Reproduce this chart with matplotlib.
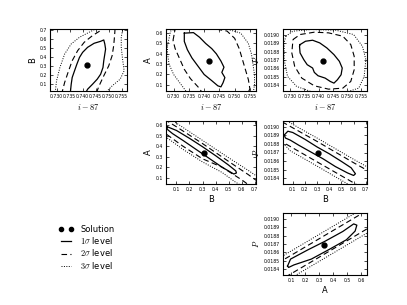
import matplotlib
matplotlib.use("Agg")
from matplotlib import pyplot as plt
from matplotlib.lines import Line2D

plt.rcParams["mathtext.fontset"] = "cm"
plt.rcParams["font.size"] = 6

# best fit solution
sol_i = 0.7415
sol_b = 0.31
sol_a = 0.335
sol_p = 0.01869

# axis ranges
lim_i = (0.7275, 0.757)
lim_b = (0.02, 0.71)
lim_a = (0.04, 0.64)
lim_p = (0.01833, 0.01907)

ticks_i = [0.730, 0.735, 0.740, 0.745, 0.750, 0.755]
ticks_b = [0.1, 0.2, 0.3, 0.4, 0.5, 0.6, 0.7]
ticks_a = [0.1, 0.2, 0.3, 0.4, 0.5, 0.6]
ticks_p = [0.0184, 0.0185, 0.0186, 0.0187, 0.0188, 0.0189, 0.0190]

# contour vertices: (x, y) in data units
# B vs i-87
bi_1s = [(0.73525, -0.01), (0.735625, 0.0956), (0.736, 0.170), (0.7369, 0.245), (0.7378, 0.319),
         (0.7388, 0.394), (0.740, 0.450), (0.7419, 0.506), (0.7444, 0.551), (0.7469, 0.573),
         (0.7481, 0.588), (0.7485, 0.543), (0.7488, 0.487), (0.7485, 0.431), (0.7481, 0.357),
         (0.7478, 0.282), (0.7469, 0.207), (0.7456, 0.152), (0.7438, 0.0956), (0.7419, 0.0396),
         (0.741, -0.01)]
bi_2s = [(0.7319, -0.02), (0.7331, 0.114), (0.7344, 0.226), (0.736, 0.357), (0.7381, 0.469),
         (0.7406, 0.562), (0.7438, 0.637), (0.7469, 0.693), (0.7488, 0.75), (0.7525, 0.75),
         (0.75225, 0.637), (0.7519, 0.525), (0.7513, 0.413), (0.750, 0.30), (0.7481, 0.189),
         (0.7463, 0.077), (0.745, -0.02)]
bi_3s = [(0.7294, -0.02), (0.730, 0.133), (0.7313, 0.282), (0.7331, 0.431), (0.7356, 0.543),
         (0.7388, 0.618), (0.7425, 0.674), (0.745, 0.711), (0.7463, 0.75), (0.7556, 0.75),
         (0.7548, 0.618), (0.7548, 0.506), (0.7553, 0.375), (0.7559, 0.245), (0.7544, 0.152),
         (0.7513, 0.077), (0.7481, -0.02)]

# A vs i-87
ai_1s = [(0.7335, 0.60), (0.7365, 0.605), (0.7385, 0.56), (0.7405, 0.50), (0.7425, 0.45),
         (0.7440, 0.40), (0.7455, 0.33), (0.7465, 0.27), (0.7458, 0.22), (0.7468, 0.17),
         (0.7462, 0.12), (0.7455, 0.08), (0.7445, 0.09), (0.7425, 0.14), (0.7400, 0.20),
         (0.7380, 0.28), (0.7360, 0.36), (0.7345, 0.44), (0.7335, 0.52)]
ai_2s = [(0.7298, 0.53), (0.7305, 0.64), (0.740, 0.66), (0.7475, 0.62), (0.750, 0.55),
         (0.7515, 0.45), (0.7525, 0.35), (0.7535, 0.25), (0.7545, 0.15), (0.7550, 0.06),
         (0.7540, 0.0), (0.7400, 0.0), (0.7380, 0.08), (0.7355, 0.16), (0.7335, 0.25),
         (0.7320, 0.35), (0.7305, 0.45)]
ai_3s = [(0.7280, 0.48), (0.7290, 0.62), (0.7320, 0.66), (0.7450, 0.66), (0.7520, 0.60),
         (0.7545, 0.50), (0.7555, 0.40), (0.7560, 0.30), (0.7565, 0.20), (0.7565, 0.10),
         (0.7560, 0.0), (0.7350, 0.0), (0.7325, 0.10), (0.7300, 0.20), (0.7285, 0.30),
         (0.7280, 0.40)]

# P vs i-87
pi_1s = [(0.7335, 0.018884), (0.7354, 0.018924), (0.7379, 0.018936), (0.7404, 0.018904),
         (0.7429, 0.018844), (0.7454, 0.018764), (0.7473, 0.018684), (0.7483, 0.018604),
         (0.7479, 0.018524), (0.7466, 0.018464), (0.7454, 0.018424), (0.7441, 0.018444),
         (0.7423, 0.018484), (0.7398, 0.018512), (0.7385, 0.018552), (0.7379, 0.018604),
         (0.7360, 0.018644), (0.7348, 0.018704), (0.7335, 0.018784), (0.7333, 0.018864)]
pi_2s = [(0.731, 0.018944), (0.7335, 0.019004), (0.7385, 0.019032), (0.7435, 0.019024),
         (0.7485, 0.018984), (0.7513, 0.018884), (0.7525, 0.018744), (0.7525, 0.018584),
         (0.7513, 0.018444), (0.7485, 0.018364), (0.7435, 0.018352), (0.7385, 0.018392),
         (0.7341, 0.018484), (0.7316, 0.018624), (0.7306, 0.018784)]
pi_3s = [(0.7285, 0.018984), (0.731, 0.019044), (0.7373, 0.019064), (0.746, 0.019056),
         (0.7523, 0.019004), (0.7554, 0.018864), (0.7566, 0.018704), (0.756, 0.018504),
         (0.7541, 0.018364), (0.7485, 0.018304), (0.7373, 0.018324), (0.7323, 0.018384),
         (0.7291, 0.018504), (0.7279, 0.018704), (0.7279, 0.018904)]

# A vs B
ab_1s = [(0.03, 0.585), (0.10, 0.55), (0.20, 0.475), (0.30, 0.395), (0.40, 0.31), (0.50, 0.22),
         (0.555, 0.165), (0.56, 0.145), (0.54, 0.135), (0.45, 0.20), (0.35, 0.285), (0.25, 0.37),
         (0.15, 0.455), (0.07, 0.52), (0.035, 0.555), (0.025, 0.575)]
ab_2s = [(-0.05, 0.70), (0.10, 0.585), (0.30, 0.425), (0.50, 0.255), (0.65, 0.13), (0.75, 0.04),
         (0.78, 0.0), (0.70, -0.01), (0.60, 0.08), (0.45, 0.20), (0.30, 0.28), (0.15, 0.40),
         (0.05, 0.49), (-0.05, 0.58)]
ab_3s = [(-0.05, 0.74), (0.10, 0.62), (0.30, 0.455), (0.50, 0.29), (0.65, 0.17), (0.78, 0.06),
         (0.70, -0.05), (0.55, 0.06), (0.45, 0.15), (0.30, 0.25), (0.15, 0.37), (0.05, 0.46),
         (-0.05, 0.55)]

# P vs B
pb_1s = [(0.03, 0.018905), (0.06, 0.01895), (0.10, 0.018935), (0.20, 0.018855), (0.30, 0.018765),
         (0.40, 0.018685), (0.50, 0.018595), (0.58, 0.01852), (0.615, 0.01845), (0.60, 0.01843),
         (0.55, 0.01846), (0.45, 0.018535), (0.35, 0.018625), (0.25, 0.018705), (0.15, 0.018785),
         (0.08, 0.018845), (0.04, 0.01887)]
pb_2s = [(-0.05, 0.019115), (0.0, 0.01907), (0.15, 0.01895), (0.30, 0.01883), (0.45, 0.018705),
         (0.60, 0.01858), (0.75, 0.01846), (0.80, 0.01842), (0.80, 0.01818), (0.70, 0.01826),
         (0.55, 0.018385), (0.40, 0.018508), (0.30, 0.01859), (0.15, 0.018713), (0.05, 0.018795),
         (-0.05, 0.018877)]
pb_3s = [(-0.05, 0.019155), (0.15, 0.01899), (0.30, 0.01887), (0.45, 0.018745), (0.60, 0.01862),
         (0.80, 0.01846), (0.80, 0.01813), (0.60, 0.01829), (0.45, 0.018415), (0.30, 0.01854),
         (0.15, 0.018663), (0.08, 0.01872), (0.04, 0.01878), (-0.05, 0.01885)]

# P vs A
pa_1s = [(0.0725, 0.018437), (0.094, 0.01852), (0.2175, 0.01863), (0.3425, 0.018735),
         (0.4675, 0.01885), (0.545, 0.01894), (0.5675, 0.018925), (0.555, 0.018854),
         (0.4925, 0.01875), (0.3675, 0.018633), (0.2425, 0.01852), (0.1175, 0.01845),
         (0.08, 0.01842)]
pa_2s = [(0.0, 0.01847), (0.10, 0.018567), (0.25, 0.018715), (0.40, 0.018863), (0.55, 0.019011),
         (0.70, 0.01916), (0.70, 0.01894), (0.55, 0.018791), (0.40, 0.018643), (0.25, 0.018495),
         (0.10, 0.018347), (0.0, 0.01825)]
pa_3s = [(0.0, 0.01852), (0.15, 0.018668), (0.30, 0.018816), (0.45, 0.018964), (0.60, 0.019112),
         (0.70, 0.01921), (0.70, 0.01889), (0.55, 0.018741), (0.40, 0.018593), (0.25, 0.018445),
         (0.10, 0.018297), (0.0, 0.0182)]

styles = [dict(ls="-", lw=0.9), dict(ls=(0, (5, 3)), lw=0.8), dict(ls=(0, (1, 1.5)), lw=0.7)]

W, H = 407, 305


def panel(x0, x1, y0, y1):
    # pixel box -> figure fraction
    return fig.add_axes([x0 / W, 1 - y1 / H, (x1 - x0) / W, (y1 - y0) / H])


def draw(ax, contours, sol, xlim, ylim, xticks, yticks, xfmt, yfmt, xlabel, ylabel):
    for verts, st in zip(contours, styles):
        xs = [v[0] for v in verts] + [verts[0][0]]
        ys = [v[1] for v in verts] + [verts[0][1]]
        ax.plot(xs, ys, color="k", **st)
    ax.plot([sol[0]], [sol[1]], "o", color="k", ms=3.5)
    ax.set_xlim(xlim)
    ax.set_ylim(ylim)
    ax.set_xticks(xticks)
    ax.set_yticks(yticks)
    ax.set_xticklabels([xfmt % t for t in xticks])
    ax.set_yticklabels([yfmt % t for t in yticks])
    ax.tick_params(direction="in", top=True, right=True, length=2.5, width=0.5,
                   labelsize=3.3, pad=2)
    for s in ax.spines.values():
        s.set_linewidth(0.8)
    ax.set_xlabel(xlabel, fontsize=6, labelpad=2)
    ax.set_ylabel(ylabel, fontsize=6, labelpad=2)


fig = plt.figure(figsize=(W / 100, H / 100), dpi=100)

cols = [(50, 127), (166, 256), (283, 367)]
rows = [(29, 91), (121, 184), (213, 275)]

draw(panel(*cols[0], *rows[0]), [bi_1s, bi_2s, bi_3s], (sol_i, sol_b), lim_i, lim_b,
     ticks_i, ticks_b, "%.3f", "%.1f", r"$i-87$", "B")
draw(panel(*cols[1], *rows[0]), [ai_1s, ai_2s, ai_3s], (sol_i, sol_a), lim_i, lim_a,
     ticks_i, ticks_a, "%.3f", "%.1f", r"$i-87$", "A")
draw(panel(*cols[2], *rows[0]), [pi_1s, pi_2s, pi_3s], (sol_i, sol_p), lim_i, lim_p,
     ticks_i, ticks_p, "%.3f", "%.4f", r"$i-87$", r"$P$")
draw(panel(*cols[1], *rows[1]), [ab_1s, ab_2s, ab_3s], (sol_b, sol_a), lim_b, lim_a,
     ticks_b, ticks_a, "%.1f", "%.1f", "B", "A")
draw(panel(*cols[2], *rows[1]), [pb_1s, pb_2s, pb_3s], (sol_b, sol_p), lim_b, lim_p,
     ticks_b, ticks_p, "%.1f", "%.4f", "B", r"$P$")
draw(panel(*cols[2], *rows[2]), [pa_1s, pa_2s, pa_3s], (sol_a, sol_p), lim_a, lim_p,
     ticks_a, ticks_p, "%.1f", "%.4f", "A", r"$P$")

handles = [
    Line2D([], [], ls="none", marker="o", color="k", ms=3),
    Line2D([], [], color="k", **styles[0]),
    Line2D([], [], color="k", **styles[1]),
    Line2D([], [], color="k", **styles[2]),
]
labels = ["Solution", r"$1\sigma$ level", r"$2\sigma$ level", r"$3\sigma$ level"]
fig.legend(handles, labels, loc="upper left", bbox_to_anchor=(58 / W, 1 - 225 / H), frameon=False,
           numpoints=2, fontsize=6, handlelength=1.9, handletextpad=0.8, labelspacing=0.15,
           borderpad=0.0, borderaxespad=0.0)

fig.savefig("out.png", dpi=100)
